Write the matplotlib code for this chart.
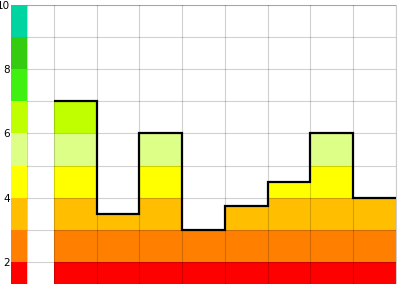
"""Stepped band chart with a level colour strip on the left."""

import matplotlib

matplotlib.use("Agg")
import matplotlib.pyplot as plt
import numpy as np

# ------------------------------------------------------------
# Data
# ------------------------------------------------------------
bar_positions = [1, 2, 3, 4, 5, 6, 7, 8]
bar_values = [7, 3.5, 6, 3, 3.75, 4.5, 6, 4]

band_lows = [1, 2, 3, 4, 5, 6, 7, 8, 9]
band_colors = [
    "#ff0000",
    "#ff8000",
    "#ffbf00",
    "#ffff00",
    "#ddff88",
    "#bfff00",
    "#40f010",
    "#33cc11",
    "#00d4a0",
]
y_tick_values = [1, 2, 3, 4, 5, 6, 7, 8, 9, 10]
y_tick_labels = ["", "2", "", "4", "", "6", "", "8", "", "10"]

# ------------------------------------------------------------
# Figure (axes runs past the bottom, like the cropped original)
# ------------------------------------------------------------
W, H = 400, 284
fig = plt.figure(figsize=(W / 100, H / 100), dpi=100)
ax = fig.add_axes([11 / W, 0, (396 - 11) / W, (284 - 5) / H])

vals = np.array(bar_values, dtype=float)

# bands inside each bar
for lo, col in zip(band_lows, band_colors):
    heights = np.clip(vals - lo, 0, 1)
    ax.bar(bar_positions, heights, bottom=lo, width=1.0, color=col,
           linewidth=0, zorder=1)

# colour strip in column 0
strip_w = 0.375
for lo, col in zip(band_lows, band_colors):
    ax.bar(-0.5, 1, bottom=lo, width=strip_w, align="edge", color=col,
           linewidth=0, zorder=3)

# outline of the bar tops
edges = np.arange(len(bar_values) + 1) + 0.5
ax.stairs(vals, edges, baseline=None, color="black", lw=1.6, zorder=4)

# grid
ax.set_xticks([-0.5 + strip_w] + list(edges))
ax.set_xticklabels([])
ax.set_yticks(y_tick_values)
ax.set_yticklabels(y_tick_labels)
ax.tick_params(axis="both", length=0, pad=1, labelsize=7.5)
ax.set_axisbelow(False)
ax.grid(True, color="black", alpha=0.18, lw=0.8, zorder=2.5)

# limits last, so the tick calls do not widen them
ax.set_xlim(-0.5, 8.5)
ax.set_ylim(1.31, 10)

for side in ["left", "bottom"]:
    ax.spines[side].set_visible(False)
for side in ["top", "right"]:
    ax.spines[side].set_color("#cccccc")
    ax.spines[side].set_linewidth(0.8)

fig.savefig("out.png", dpi=100, facecolor="white")
plt.close(fig)
